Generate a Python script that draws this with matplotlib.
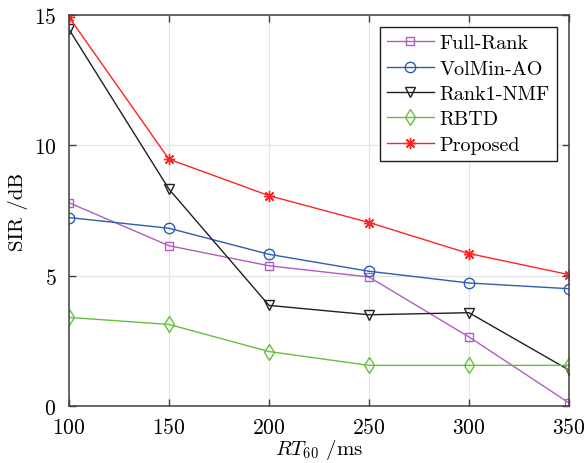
import numpy as np
import matplotlib
matplotlib.use("Agg")
import matplotlib.pyplot as plt

plt.rcParams['font.family'] = 'cmr10'
plt.rcParams['mathtext.fontset'] = 'cm'
plt.rcParams['axes.formatter.use_mathtext'] = True

# reverberation time (ms) and separation results (SIR, dB)
rt60 = [100, 150, 200, 250, 300, 350]
full_rank = [7.8, 6.15, 5.38, 4.95, 2.65, 0.12]
volmin_ao = [7.23, 6.82, 5.82, 5.17, 4.72, 4.5]
rank1_nmf = [14.45, 8.32, 3.86, 3.5, 3.58, 1.38]
rbtd = [3.4, 3.13, 2.09, 1.56, 1.56, 1.56]
proposed = [14.92, 9.47, 8.07, 7.04, 5.85, 5.04]

xticks = [100, 150, 200, 250, 300, 350]
yticks = [0, 5, 10, 15]

fig = plt.figure(figsize=(5.87, 4.64), dpi=100)
ax = fig.add_axes([0.1175, 0.1228, 0.8518, 0.8427])

ax.plot(rt60, full_rank, color='#b25ec0', lw=1.0, marker='s', ms=6,
        mfc='none', mew=1.0, label='Full-Rank')
ax.plot(rt60, volmin_ao, color='#2b5db3', lw=1.0, marker='o', ms=7.5,
        mfc='none', mew=1.0, label='VolMin-AO')
ax.plot(rt60, rank1_nmf, color='#202020', lw=1.0, marker='v', ms=7.5,
        mfc='none', mew=1.0, label='Rank1-NMF')
ax.plot(rt60, rbtd, color='#66c03c', lw=1.0, marker='d', ms=8.5,
        mfc='none', mew=1.0, label='RBTD')
ax.plot(rt60, proposed, color='#ff2424', lw=1.0, marker=(8, 2, 0), ms=8,
        mew=1.0, label='Proposed')

ax.set_xlim(100, 350)
ax.set_ylim(0, 15)
ax.set_xticks(xticks)
ax.set_yticks(yticks)
ax.grid(True, color='#e4e4e4', lw=0.9)
ax.set_axisbelow(True)
ax.tick_params(direction='in', top=True, right=True, labelsize=15.5,
               length=5, width=1.0, color='#404040')
ax.tick_params(axis='x', pad=8)
ax.tick_params(axis='y', pad=9)
for s in ax.spines.values():
    s.set_color('#404040')
    s.set_linewidth(1.1)

ax.set_xlabel(r'$RT_{60}$ /ms', fontsize=15, labelpad=0)
ax.set_ylabel('SIR /dB', fontsize=15, labelpad=4)

leg = ax.legend(loc='upper right', fontsize=14.5, frameon=True, fancybox=False,
                edgecolor='#202020', framealpha=1, handlelength=2.3,
                handletextpad=0.3, labelspacing=0.36, borderpad=0.35,
                borderaxespad=0.6)
leg.get_frame().set_linewidth(1.0)

fig.savefig('out.png', dpi=100)
